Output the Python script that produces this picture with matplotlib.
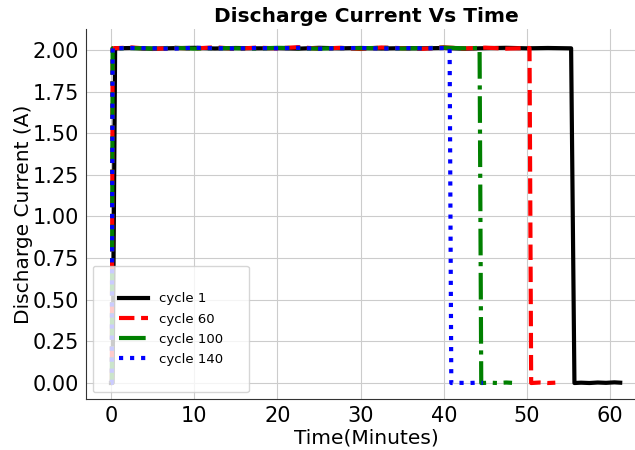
import matplotlib
matplotlib.use("Agg")
import matplotlib.pyplot as plt

# ---- data ----
c1_t = [0.0, 0.2, 0.5, 2.5, 5, 7.5, 10, 12.5, 15, 17.5, 20, 22.5, 25, 27.5, 30, 32.5, 35, 37.5, 40, 42.5, 45, 47.5, 50, 52.5, 55.3, 55.7, 56.5, 57.5, 58.5, 59.5, 60.5, 61.2]
c1_i = [0.0, 0.0, 2.01, 2.012, 2.008, 2.011, 2.013, 2.009, 2.012, 2.010, 2.011, 2.008, 2.013, 2.010, 2.012, 2.009, 2.011, 2.010, 2.012, 2.008, 2.011, 2.013, 2.010, 2.012, 2.010, 0.0, 0.002, 0.0, 0.003, 0.001, 0.004, 0.002]

c60_t = [0.0, 0.1, 0.2, 2.5, 5, 7.5, 10, 12.5, 15, 17.5, 20, 22.5, 25, 27.5, 30, 32.5, 35, 37.5, 40, 42.5, 45, 47.5, 50.3, 50.5, 51.5, 52.5, 53.4]
c60_i = [0.0, 0.0, 2.01, 2.015, 2.006, 2.013, 2.009, 2.016, 2.007, 2.014, 2.010, 2.017, 2.008, 2.013, 2.006, 2.015, 2.011, 2.007, 2.016, 2.009, 2.014, 2.008, 2.012, 0.0, 0.003, 0.0, 0.002]

c100_t = [0.0, 0.1, 0.2, 2.5, 5, 7.5, 10, 12.5, 15, 17.5, 20, 22.5, 25, 27.5, 30, 32.5, 35, 37.5, 40, 42.5, 44.3, 44.5, 45.5, 46.5, 47.5, 48.2]
c100_i = [0.0, 0.0, 2.01, 2.011, 2.009, 2.013, 2.008, 2.012, 2.010, 2.009, 2.013, 2.011, 2.008, 2.012, 2.010, 2.013, 2.009, 2.011, 2.014, 2.010, 2.012, 0.0, 0.002, 0.0, 0.003, 0.001]

c140_t = [0.0, 0.1, 0.2, 2.5, 5, 7.5, 10, 12.5, 15, 17.5, 20, 22.5, 25, 27.5, 30, 32.5, 35, 37.5, 40.7, 40.9, 42, 43, 44, 44.7]
c140_i = [0.0, 0.0, 2.01, 2.012, 2.010, 2.008, 2.013, 2.011, 2.009, 2.012, 2.010, 2.013, 2.008, 2.011, 2.012, 2.009, 2.011, 2.010, 2.012, 0.0, 0.001, 0.0, 0.002, 0.001]

labels = ["cycle 1", "cycle 60", "cycle 100", "cycle 140"]
xticks = [0, 10, 20, 30, 40, 50, 60]
yticks = [0.00, 0.25, 0.50, 0.75, 1.00, 1.25, 1.50, 1.75, 2.00]

FS = 14.5
TFS = 15.0

fig = plt.figure(figsize=(6.35, 4.5), dpi=100)
ax = fig.add_axes([86/635, (450-399)/450, 560/635, 370/450])

ax.plot(c1_t, c1_i, color="black", ls="-", lw=3, label=labels[0])
ax.plot(c60_t, c60_i, color="red", ls="--", lw=3, label=labels[1])
ax.plot(c100_t, c100_i, color="green", ls="-.", lw=3, label=labels[2])
ax.plot(c140_t, c140_i, color="blue", ls=":", lw=3, label=labels[3])

ax.set_xlim(-3.0, 64.3)
ax.set_ylim(-0.096, 2.126)
ax.set_xticks(xticks)
ax.set_yticks(yticks)
ax.set_yticklabels([f"{v:.2f}" for v in yticks])
ax.tick_params(labelsize=TFS, length=0, pad=4.9)
ax.grid(True, color="#cccccc", lw=0.8)
ax.spines["top"].set_visible(False)
ax.spines["right"].set_visible(False)
for s in ("left", "bottom"):
    ax.spines[s].set_color("#333333")

ax.set_xlabel("Time(Minutes)", fontsize=FS, labelpad=2)
ax.set_ylabel("Discharge Current (A)", fontsize=FS, labelpad=0)
ax.set_title("Discharge Current Vs Time", fontsize=FS, fontweight="bold", pad=5)

ax.legend(loc="lower left", fontsize=9.5, borderpad=2.0,
          labelspacing=0.55, handlelength=2.2)

fig.savefig("out.png", dpi=100)
